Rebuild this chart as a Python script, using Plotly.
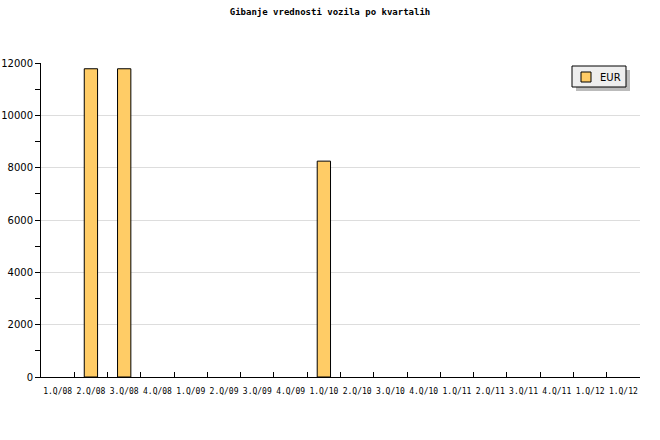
import plotly.graph_objects as go

quarters = ["1.Q/08", "2.Q/08", "3.Q/08", "4.Q/08", "1.Q/09", "2.Q/09", "3.Q/09", "4.Q/09",
            "1.Q/10", "2.Q/10", "3.Q/10", "4.Q/10", "1.Q/11", "2.Q/11", "3.Q/11", "4.Q/11",
            "1.Q/12", "1.Q/12"]
eur_values = [0, 11780, 11780, 0, 0, 0, 0, 0, 8250, 0, 0, 0, 0, 0, 0, 0, 0, 0]
series_name = "EUR"
title_text = "Gibanje vrednosti vozila po kvartalih"

keys = [f"k{i}" for i in range(len(quarters))]
bar_color = "#FFCC66"

fig = go.Figure()
fig.add_trace(go.Bar(
    x=keys, y=[v if v else None for v in eur_values], name=series_name, width=0.4,
    marker=dict(color=bar_color, line=dict(color="black", width=1)),
    showlegend=False,
))

L, R, T, B = 41, 20, 63, 63
W, H = 660, 440
pw, ph = W - L - R, H - T - B

def px_x(x):
    return (x - L) / pw

def px_y(y):
    return (H - B - y) / ph

fig.update_layout(
    width=W, height=H,
    margin=dict(l=L, r=R, t=T, b=B),
    paper_bgcolor="white", plot_bgcolor="white",
    title=dict(text="<b>" + title_text + "</b>", x=0.5, xanchor="center", y=1 - 12 / H, yanchor="middle",
               font=dict(family="DejaVu Sans Mono", size=9, color="black")),
    xaxis=dict(type="category", tickmode="array", tickvals=keys, ticktext=quarters,
               tickson="boundaries", ticks="inside", ticklen=5, tickcolor="black",
               showline=True, linecolor="black", linewidth=1, showgrid=False,
               tickfont=dict(family="DejaVu Sans Mono", size=8, color="black"),
               ticklabelstandoff=6,
               tickangle=0, range=[-0.5, len(quarters) - 0.5], automargin=False),
    yaxis=dict(range=[0, 12000], dtick=2000, tick0=0, tickformat="d",
               ticks="outside", ticklen=5, tickcolor="black",
               showline=True, linecolor="black", linewidth=1,
               showgrid=True, gridcolor="#DDDDDD", gridwidth=1, zeroline=False,
               tickfont=dict(family="DejaVu Sans", size=10, color="black"), automargin=False,
               minor=dict(dtick=1000, ticks="outside", ticklen=5, tickcolor="black", showgrid=False)),
    showlegend=False,
)

# hand-drawn legend: shadow, box, swatch, text
lx0, lx1, ly0, ly1 = 572, 626, 66, 87
fig.add_shape(type="rect", xref="paper", yref="paper",
              x0=px_x(lx0 + 4), x1=px_x(lx1 + 4), y0=px_y(ly1 + 4), y1=px_y(ly0 + 4),
              fillcolor="#BBBBBB", line=dict(width=0), layer="above")
fig.add_shape(type="rect", xref="paper", yref="paper",
              x0=px_x(lx0), x1=px_x(lx1), y0=px_y(ly1), y1=px_y(ly0),
              fillcolor="#EEEEEE", line=dict(color="black", width=1), layer="above")
fig.add_shape(type="rect", xref="paper", yref="paper",
              x0=px_x(581), x1=px_x(591), y0=px_y(82), y1=px_y(72),
              fillcolor=bar_color, line=dict(color="black", width=1), layer="above")
fig.add_annotation(xref="paper", yref="paper", x=px_x(598), y=px_y(77),
                   xanchor="left", yanchor="middle", text=series_name, showarrow=False,
                   font=dict(family="DejaVu Sans", size=10, color="black"))

fig.write_html("out.html", config={"displayModeBar": False},
               post_script="document.body.style.margin='0';")
